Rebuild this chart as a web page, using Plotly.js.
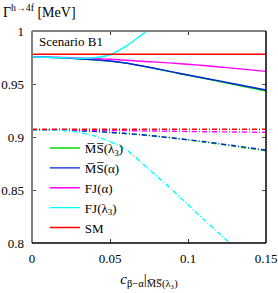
<!DOCTYPE html>
<html><head><meta charset="utf-8">
<script src="https://cdn.plot.ly/plotly-3.0.1.min.js"></script>
<style>html,body{margin:0;padding:0;background:#fff}#c{width:278px;height:293px}</style>
</head><body><div id="c"></div>
<script>
var xs = [0,0.01,0.02,0.03,0.04,0.05,0.06,0.07,0.08,0.09,0.1,0.11,0.12,0.13,0.14,0.15];
var xsCyan = [0,0.01,0.02,0.03,0.04,0.05,0.06,0.07,0.08];
var xsCyanDD = [0,0.01,0.02,0.03,0.04,0.05,0.06,0.07,0.08,0.09,0.1,0.11,0.12,0.13];
var xsSM = [0,0.15];

// solid: upper set
var msLam3 = [0.9755,0.9752,0.9746,0.9738,0.9729,0.9716,0.9697,0.9671,0.9643,0.9612,0.9582,0.9553,0.9524,0.9494,0.9464,0.9434];
var msAlpha = [0.9755,0.9752,0.9746,0.9738,0.9729,0.9717,0.9698,0.9672,0.9644,0.9614,0.9585,0.9557,0.9529,0.9500,0.9472,0.9443];
var fjAlpha = [0.9755,0.9754,0.9751,0.9746,0.9740,0.9733,0.9724,0.9715,0.9706,0.9697,0.9686,0.9674,0.9661,0.9647,0.9633,0.9619];
var fjLam3 = [0.9755,0.9752,0.9748,0.9743,0.9748,0.9776,0.9855,0.9960,1.0080];
var sm = [0.978,0.978];

// dash-dot: lower set
var msLam3DD = [0.9068,0.9067,0.9065,0.9060,0.9053,0.9044,0.9033,0.9021,0.9007,0.8991,0.8972,0.8953,0.8933,0.8912,0.8891,0.8870];
var msAlphaDD = [0.9068,0.9067,0.9065,0.9060,0.9053,0.9044,0.9033,0.9021,0.9007,0.8991,0.8974,0.8957,0.8937,0.8917,0.8897,0.8877];
var fjAlphaDD = [0.9068,0.9068,0.9067,0.9066,0.9064,0.9062,0.9060,0.9058,0.9056,0.9054,0.9052,0.9050,0.9049,0.9047,0.9046,0.9044];
var fjLam3DD = [0.9068,0.9067,0.9062,0.9045,0.9010,0.8957,0.8885,0.8760,0.8630,0.8500,0.8360,0.8225,0.8090,0.7960];
var smDD = [0.9073,0.9073];

var names = ['M\u0305S\u0305(λ<sub>3</sub>)','M\u0305S\u0305(α)','FJ(α)','FJ(λ<sub>3</sub>)','SM'];
var colors = ['#00dd00','#0022dd','#ff00ff','#00ffff','#ff0000'];
var solid = [[xs,msLam3],[xs,msAlpha],[xs,fjAlpha],[xsCyan,fjLam3],[xsSM,sm]];
var dd = [[xs,msLam3DD],[xs,msAlphaDD],[xs,fjAlphaDD],[xsCyanDD,fjLam3DD],[xsSM,smDD]];

var traces = [];
for (var i=0;i<5;i++){
  traces.push({x:solid[i][0], y:solid[i][1], mode:'lines', name:names[i],
    line:{color:colors[i], width:1.4, shape:'spline', smoothing:0.6}, showlegend:true});
}
for (var i=0;i<5;i++){
  traces.push({x:dd[i][0], y:dd[i][1], mode:'lines', name:names[i],
    line:{color:colors[i], width:1.4, dash:'5px,2px,1px,2px', shape:'spline', smoothing:0.6}, showlegend:false});
}

var F = "'Liberation Serif', 'DejaVu Serif', serif";
var layout = {
  width:278, height:293,
  margin:{l:32, r:12, t:31, b:50},
  paper_bgcolor:'#fff', plot_bgcolor:'#fff',
  font:{family:F, size:12, color:'#000'},
  title:{text:'Γ<sup>h→4f</sup> [MeV]', x:3/278, xanchor:'left', xref:'container', y:1-12/293, yanchor:'middle', yref:'container', font:{family:F,size:14,color:'#000'}},
  xaxis:{range:[0,0.15], tickvals:[0,0.05,0.1,0.15], ticktext:['0','0.05','0.1','0.15'],
    ticks:'inside', ticklen:4, tickcolor:'#333', tickwidth:1, mirror:'ticks', showline:false,
    showgrid:false, zeroline:false, ticklabelstandoff:6,
    tickfont:{family:F,size:13},
    title:{text:'<i>c</i><sub>β−α</sub>|<sub>M\u0305S\u0305(λ₃)</sub>', standoff:8, font:{family:F,size:15}}},
  yaxis:{range:[0.8,1], tickvals:[0.8,0.85,0.9,0.95,1], ticktext:['0.8','0.85','0.9','0.95','1'],
    ticks:'inside', ticklen:4, tickcolor:'#555', tickwidth:1, mirror:'ticks', showline:false,
    showgrid:false, zeroline:false, ticklabelstandoff:7,
    tickfont:{family:F,size:13}},
  legend:{x:0.055, y:0.0, xanchor:'left', yanchor:'bottom', bgcolor:'rgba(0,0,0,0)', borderwidth:0,
    font:{family:F,size:13}, tracegroupgap:0},
  shapes:[
    {type:'line', xref:'paper', yref:'paper', x0:0, x1:0, y0:0, y1:1, line:{color:'#808080', width:2}},
    {type:'line', xref:'paper', yref:'paper', x0:0, x1:1, y0:1, y1:1, line:{color:'#808080', width:2}},
    {type:'line', xref:'paper', yref:'paper', x0:0, x1:1, y0:0, y1:0, line:{color:'#000', width:1.5}},
    {type:'line', xref:'paper', yref:'paper', x0:1, x1:1, y0:0, y1:1, line:{color:'#000', width:1.5}}
  ],
  annotations:[
    {text:'Scenario B1', xref:'paper', yref:'paper', x:0.02, y:0.95, xanchor:'left', yanchor:'middle', showarrow:false, font:{family:F,size:13,color:'#000'}}
  ]
};
Plotly.newPlot('c', traces, layout, {displayModeBar:false, staticPlot:true});
</script></body></html>
